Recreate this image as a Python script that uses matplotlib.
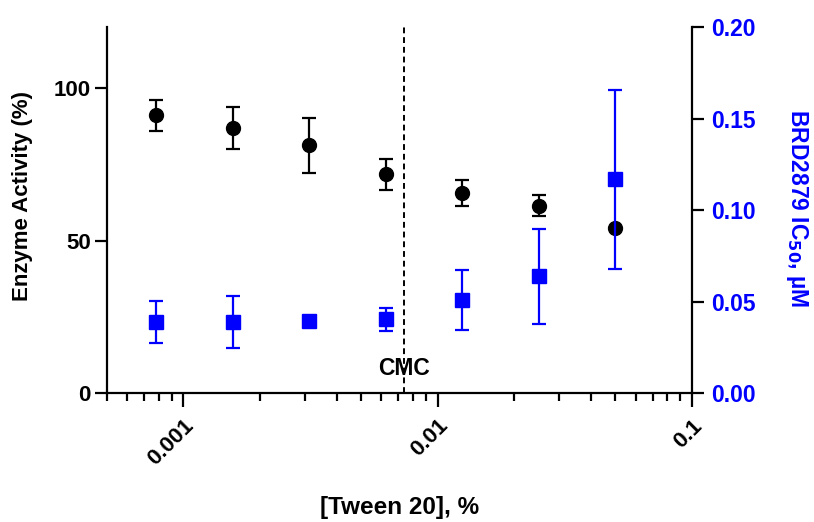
import numpy as np
import matplotlib
matplotlib.use("Agg")
import matplotlib.pyplot as plt
from matplotlib.ticker import LogLocator, NullFormatter, FixedLocator

plt.rcParams["font.family"] = ["Liberation Sans", "DejaVu Sans"]
plt.rcParams["font.weight"] = "bold"

# Tween 20 concentrations (%), two-fold dilution series
tween = [0.00078125, 0.0015625, 0.003125, 0.00625, 0.0125, 0.025, 0.05]

# enzyme activity (%), left axis
activity = [91.1, 86.9, 81.2, 71.7, 65.7, 61.4, 54.1]
activity_err = [5.1, 6.8, 8.9, 5.2, 4.3, 3.4, 0.0]

# BRD2879 IC50 (uM), right axis
ic50 = [0.0388, 0.0388, 0.0392, 0.0403, 0.0508, 0.0639, 0.1168]
ic50_err = [0.0116, 0.0143, 0.0, 0.0064, 0.0165, 0.026, 0.049]

cmc = 0.0074
blue = "#0000FF"

fg = plt.figure(figsize=(8.14, 5.22), dpi=100)
ax = fg.add_axes([0.1314, 0.247, 0.7186, 0.701])
ax2 = ax.twinx()

ax.errorbar(tween, activity, yerr=activity_err, fmt="o", c="k", ms=10,
            capsize=5, elinewidth=1.6, capthick=1.6, zorder=3)
ax2.errorbar(tween, ic50, yerr=ic50_err, fmt="s", c=blue, ms=10,
             capsize=5, elinewidth=1.6, capthick=1.6, zorder=3)

ax.axvline(cmc, c="k", ls=(0, (3, 2)), lw=1.4)
ax.text(cmc, 4.2, "CMC", ha="center", va="bottom", fontsize=16.5,
        fontweight="bold")

ax.set_xscale("log")
ax.set_xlim(0.0005, 0.1)
ax.set_ylim(0, 120)
ax2.set_ylim(0, 0.20)

ax.xaxis.set_major_locator(FixedLocator([0.001, 0.01, 0.1]))
ax.set_xticklabels(["0.001", "0.01", "0.1"], rotation=45, ha="right",
                   rotation_mode="anchor", fontsize=16)
ax.xaxis.set_minor_locator(LogLocator(base=10, subs=np.arange(2, 10)))
ax.xaxis.set_minor_formatter(NullFormatter())
ax.set_yticks([0, 50, 100])
ax2.set_yticks([0, 0.05, 0.10, 0.15, 0.20])
ax2.set_yticklabels(["0.00", "0.05", "0.10", "0.15", "0.20"])

for a in (ax, ax2):
    a.spines["top"].set_visible(False)
    for s in a.spines.values():
        s.set_linewidth(1.6)
ax.spines["right"].set_visible(False)
ax2.spines["left"].set_visible(False)
ax2.spines["bottom"].set_visible(False)

ax.tick_params(axis="x", which="major", length=10, width=1.6, pad=6)
ax.tick_params(axis="x", which="minor", length=5.5, width=1.6)
ax.tick_params(axis="y", length=8.6, width=1.6, labelsize=16, pad=3)
ax2.tick_params(axis="y", length=8.6, width=1.6, labelsize=16.5,
                labelcolor=blue, pad=5)
for t in ax.get_yticklabels() + ax2.get_yticklabels():
    t.set_fontweight("bold")

ax.set_ylabel("Enzyme Activity (%)", fontsize=16, fontweight="bold",
              va="center", ha="center")
ax.yaxis.set_label_coords(-0.145, 0.538)
ax2.set_ylabel("BRD2879 IC$_{\\mathbf{50}}$, µM", fontsize=16.5,
               fontweight="bold", color=blue, rotation=270,
               va="center", ha="center")
ax2.yaxis.set_label_coords(1.179, 0.505)
ax.set_xlabel("[Tween 20], %", fontsize=17.5, fontweight="bold",
              va="center", ha="center")
ax.xaxis.set_label_coords(0.5, -0.314)

fg.savefig("out.png", dpi=100)
